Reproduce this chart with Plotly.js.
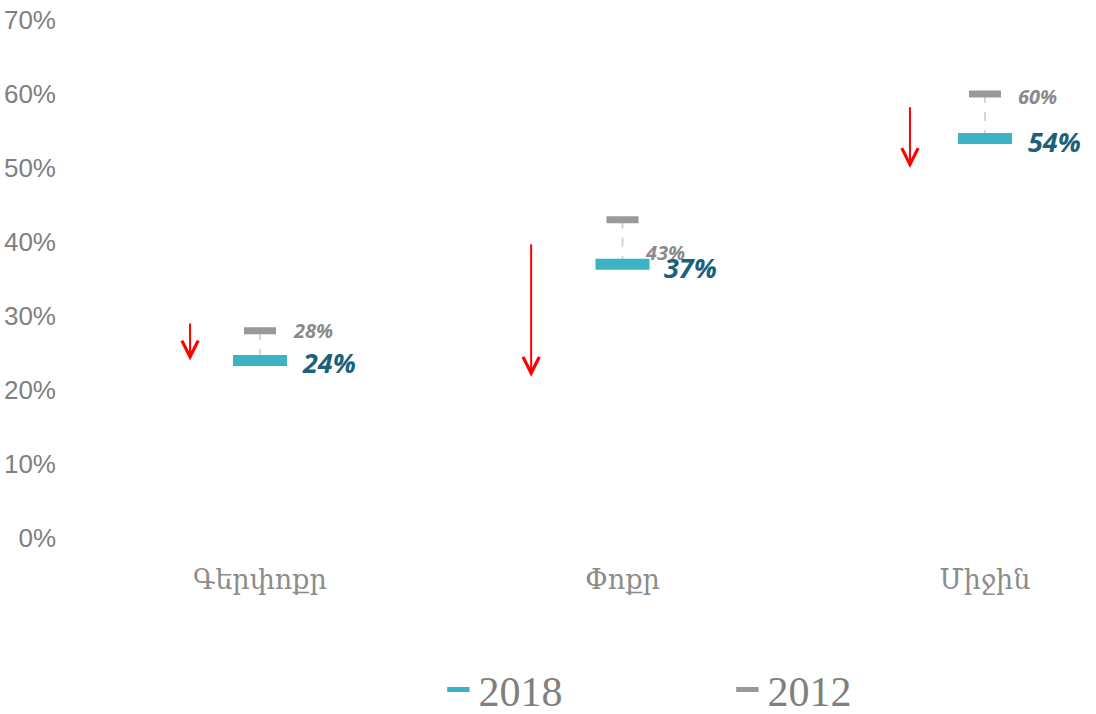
<!DOCTYPE html>
<html>
<head>
<meta charset="utf-8">
<script src="https://cdn.plot.ly/plotly-3.0.1.min.js"></script>
<style>html,body{margin:0;padding:0;background:#fff;}#chart{width:1096px;height:714px;}</style>
</head>
<body>
<div id="chart"></div>
<script>
// ---- data ----
const categories = ["Գերփոքր", "Փոքր", "Միջին"];
const values2018 = [24, 37, 54];
const values2012 = [28, 43, 60];
const labels2018 = ["24%", "37%", "54%"];
const labels2012 = ["28%", "43%", "60%"];
const yTickVals = [0, 10, 20, 30, 40, 50, 60, 70];
const yTickText = ["0%", "10%", "20%", "30%", "40%", "50%", "60%", "70%"];
// red decrease arrows (x position in category units, start and end in %)
const arrowX = [-0.193, 0.748, 1.793];
const arrowFrom = [29.2, 39.9, 58.4];
const arrowTo = [24.0, 21.8, 50.0];

// ---- styles ----
const TEAL = "#3cb3c3", TEAL_TEXT = "#1c6079", GRAY = "#999999", GRAY_TEXT = "#8a8a8a";
const shift2012 = [[53, 0], [42, -33], [52, -2]];
const shift2018 = [[69, -2], [68, -3], [69, -3]];

const xs = categories.map((c, i) => i);

const connX = [], connY = [];
xs.forEach((x, i) => { connX.push(x, x, null); connY.push(values2012[i], values2018[i], null); });

const traces = [
  { x: connX, y: connY, mode: "lines", type: "scatter", showlegend: false, hoverinfo: "skip",
    line: { color: "#d6d6d6", width: 2, dash: "dash" } },
  { x: xs, y: values2018, name: "2018", mode: "markers", type: "scatter",
    marker: { symbol: "line-ew", size: 38.6, color: TEAL, line: { color: TEAL, width: 11 } } },
  { x: xs, y: values2012, name: "2012", mode: "markers", type: "scatter",
    marker: { symbol: "line-ew", size: 22.9, color: GRAY, line: { color: GRAY, width: 7 } } }
];

const annotations = [];
xs.forEach((x, i) => {
  annotations.push({ x: x, y: values2012[i], xref: "x", yref: "y", text: labels2012[i], showarrow: false,
    xshift: shift2012[i][0], yshift: shift2012[i][1],
    font: { family: "Open Sans", size: 20, color: GRAY_TEXT, weight: "bold", style: "italic" } });
  annotations.push({ x: x, y: values2018[i], xref: "x", yref: "y", text: labels2018[i], showarrow: false,
    xshift: shift2018[i][0], yshift: shift2018[i][1],
    font: { family: "Open Sans", size: 27, color: TEAL_TEXT, weight: "bold", style: "italic" } });
});
arrowX.forEach((x, i) => {
  annotations.push({ x: x, y: arrowTo[i], ax: x, ay: arrowFrom[i], xref: "x", yref: "y", axref: "x", ayref: "y",
    text: "", showarrow: true, arrowhead: 5, arrowsize: 1.6, arrowwidth: 2, arrowcolor: "#ff0000", standoff: 0 });
});

const layout = {
  width: 1096, height: 714,
  margin: { l: 57, r: 0, t: 20, b: 176 },
  paper_bgcolor: "#ffffff", plot_bgcolor: "#ffffff",
  showlegend: true,
  legend: { orientation: "h", xref: "container", yref: "container", x: 0.4, y: 0.034,
    xanchor: "left", yanchor: "middle", entrywidth: 244, entrywidthmode: "pixels",
    font: { family: "Liberation Serif", size: 42, color: "#7f7f7f" }, bgcolor: "rgba(0,0,0,0)" },
  xaxis: { type: "linear", range: [-0.5600, 2.3062], tickvals: xs, ticktext: categories,
    showgrid: false, zeroline: false, showline: false, ticks: "", ticklabelstandoff: 23,
    tickfont: { family: "DejaVu Serif", size: 27, color: "#8c8c8c" }, fixedrange: true },
  yaxis: { range: [0, 70], tickvals: yTickVals, ticktext: yTickText, showgrid: false, zeroline: false,
    showline: false, ticks: "", tickfont: { family: "Liberation Sans", size: 26, color: "#808080" }, fixedrange: true },
  annotations: annotations
};

Plotly.newPlot("chart", traces, layout, { displayModeBar: false, staticPlot: true });
</script>
</body>
</html>
